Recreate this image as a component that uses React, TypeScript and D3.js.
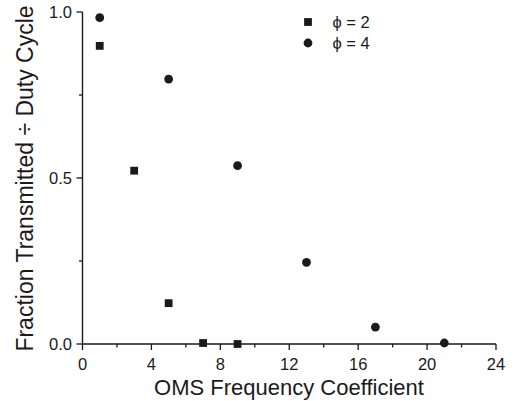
import React from "react";
import * as d3 from "d3";

const xPhi2 = [1, 3, 5, 7, 9];
const yPhi2 = [0.898, 0.522, 0.123, 0.003, 0.0];
const xPhi4 = [1, 5, 9, 13, 17, 21];
const yPhi4 = [0.983, 0.798, 0.537, 0.246, 0.051, 0.003];
const xMajorTicks = [0, 4, 8, 12, 16, 20, 24];
const xMinorTicks = [2, 6, 10, 14, 18, 22];
const yMajorTicks = [0, 0.5, 1.0];
const yMinorTicks = [0.25, 0.75];
const legendLabels = ["\u03D5 = 2", "\u03D5 = 4"];
const xTitle = "OMS Frequency Coefficient";
const yTitle = "Fraction Transmitted \u00F7 Duty Cycle";

const W = 519;
const H = 401;
const FONT = "'Liberation Sans', Arial, Helvetica, sans-serif";
const INK = "#1a1a1a";

export default function App() {
  const x = d3.scaleLinear().domain([0, 24]).range([82.5, 496]);
  const y = d3.scaleLinear().domain([0, 1]).range([344, 12]);
  const sq = 7.8;
  const r = 4.4;
  const x0 = x(0);
  const y0 = y(0);
  return (
    <svg
      width={W}
      height={H}
      style={{ position: "absolute", left: 0, top: 0, background: "#fff" }}
      fontFamily={FONT}
    >
      <line x1={x0} x2={x(24)} y1={y0} y2={y0} stroke={INK} strokeWidth={1.4} />
      <line x1={x0} x2={x0} y1={y(1)} y2={y0} stroke={INK} strokeWidth={1.4} />
      {xMajorTicks.map((t) => (
        <g key={"xM" + t}>
          <line x1={x(t)} x2={x(t)} y1={y0} y2={y0 + 6} stroke={INK} strokeWidth={1.3} />
          <text x={x(t)} y={369.5} textAnchor="middle" fontSize={16.5} fill={INK}>
            {t}
          </text>
        </g>
      ))}
      {xMinorTicks.map((t) => (
        <line key={"xm" + t} x1={x(t)} x2={x(t)} y1={y0} y2={y0 + 3.5} stroke={INK} strokeWidth={1.3} />
      ))}
      {yMajorTicks.map((t) => (
        <g key={"yM" + t}>
          <line x1={x0 - 6} x2={x0} y1={y(t)} y2={y(t)} stroke={INK} strokeWidth={1.3} />
          <text x={72} y={y(t)} dy="0.36em" textAnchor="end" fontSize={16.5} fill={INK}>
            {t.toFixed(1)}
          </text>
        </g>
      ))}
      {yMinorTicks.map((t) => (
        <line key={"ym" + t} x1={x0 - 3.5} x2={x0} y1={y(t)} y2={y(t)} stroke={INK} strokeWidth={1.3} />
      ))}
      <text x={289} y={395} textAnchor="middle" fontSize={22} fill={INK}>
        {xTitle}
      </text>
      <text
        transform={`translate(33,178.5) rotate(-90)`}
        textAnchor="middle"
        fontSize={23}
        fill={INK}
      >
        {yTitle}
      </text>
      {xPhi2.map((v, i) => (
        <rect key={"s" + i} x={x(v) - sq / 2} y={y(yPhi2[i]) - sq / 2} width={sq} height={sq} fill={INK} />
      ))}
      {xPhi4.map((v, i) => (
        <circle key={"c" + i} cx={x(v)} cy={y(yPhi4[i])} r={r} fill={INK} />
      ))}
      <rect x={308 - sq / 2} y={22 - sq / 2} width={sq} height={sq} fill={INK} />
      <circle cx={308} cy={43} r={r} fill={INK} />
      <text x={332.5} y={22} dy="0.36em" fontSize={16.5} fill={INK}>
        {legendLabels[0]}
      </text>
      <text x={332.5} y={43} dy="0.36em" fontSize={16.5} fill={INK}>
        {legendLabels[1]}
      </text>
    </svg>
  );
}
